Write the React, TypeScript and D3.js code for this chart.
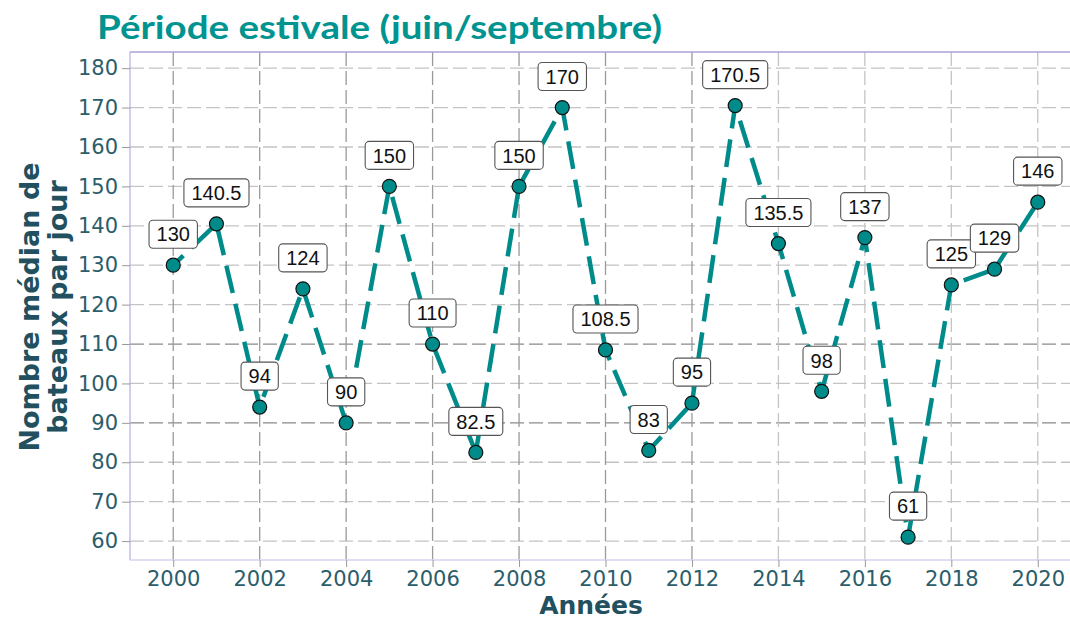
import { useRef, useEffect } from 'react';
import * as d3 from 'd3';

const years = [2000, 2001, 2002, 2003, 2004, 2005, 2006, 2007, 2008, 2009, 2010, 2011, 2012, 2013, 2014, 2015, 2016, 2017, 2018, 2019, 2020];
const boats = [130, 140.5, 94, 124, 90, 150, 110, 82.5, 150, 170, 108.5, 83, 95, 170.5, 135.5, 98, 137, 61, 125, 129, 146];
const xTicks = [2000, 2002, 2004, 2006, 2008, 2010, 2012, 2014, 2016, 2018, 2020];
const yTicks = [60, 70, 80, 90, 100, 110, 120, 130, 140, 150, 160, 170, 180];

const title = 'Période estivale (juin/septembre)';
const xTitle = 'Années';
const yTitleLines = ['Nombre médian de', 'bateaux par jour'];

const width = 1070;
const height = 620;
const teal = '#008b8b';
const axisText = '#2b5d6b';
const titleDark = '#22505e';

export default function App() {
  const svgRef = useRef<SVGSVGElement>(null);

  useEffect(() => {
    document.body.style.margin = '0';
    const svg = d3.select(svgRef.current);
    if (svg.empty()) return;
    svg.selectAll('*').remove();

    const margin = { top: 52, right: -11, bottom: 60, left: 130 };
    const innerW = width - margin.left - margin.right;
    const innerH = height - margin.top - margin.bottom;

    const x = d3.scaleLinear().domain([1999, 2021]).range([0, innerW]);
    const y = d3.scaleLinear().domain([55.2, 184.1]).range([innerH, 0]);

    const g = svg.append('g').attr('transform', `translate(${margin.left},${margin.top})`);

    // Grid
    const grid = g.append('g');
    grid.selectAll('.hg')
      .data(yTicks)
      .enter()
      .append('line')
      .attr('x1', 0)
      .attr('x2', innerW)
      .attr('y1', d => y(d))
      .attr('y2', d => y(d))
      .attr('stroke', d => (d === 90 || d === 110 ? '#8a8a8a' : '#c4c4c4'))
      .attr('stroke-width', 1.3)
      .attr('stroke-dasharray', '14,5');
    grid.selectAll('.vg')
      .data(xTicks)
      .enter()
      .append('line')
      .attr('x1', d => x(d))
      .attr('x2', d => x(d))
      .attr('y1', 0)
      .attr('y2', innerH)
      .attr('stroke', d => (d <= 2012 ? '#9a9a9a' : '#c4c4c4'))
      .attr('stroke-width', 1.3)
      .attr('stroke-dasharray', '14,5');

    // Panel frame
    g.append('line').attr('x1', 0).attr('x2', innerW).attr('y1', 0).attr('y2', 0)
      .attr('stroke', '#a9a2d6').attr('stroke-width', 1.5);
    g.append('line').attr('x1', 0).attr('x2', 0).attr('y1', 0).attr('y2', innerH)
      .attr('stroke', '#b4aee0').attr('stroke-width', 1.2);
    g.append('line').attr('x1', 0).attr('x2', innerW).attr('y1', innerH).attr('y2', innerH)
      .attr('stroke', '#d6d2ee').attr('stroke-width', 1.5);

    // Axes
    const yAxis = g.append('g').call(d3.axisLeft(y).tickValues(yTicks).tickSize(8).tickPadding(4));
    yAxis.select('.domain').remove();
    yAxis.selectAll('line').attr('stroke', '#999');
    yAxis.selectAll('text')
      .attr('fill', axisText)
      .attr('font-size', '21px')
      .attr('font-family', 'DejaVu Sans, sans-serif');

    const xAxis = g.append('g')
      .attr('transform', `translate(0,${innerH})`)
      .call(d3.axisBottom(x).tickValues(xTicks).tickFormat(d3.format('d') as any).tickSize(7).tickPadding(4));
    xAxis.select('.domain').remove();
    xAxis.selectAll('line').attr('stroke', '#999');
    xAxis.selectAll('text')
      .attr('fill', axisText)
      .attr('font-size', '21px')
      .attr('font-family', 'DejaVu Sans, sans-serif');

    const pts = years.map((yr, i) => ({ year: yr, value: boats[i] }));

    // Line
    const line = d3.line<{ year: number; value: number }>()
      .x(d => x(d.year))
      .y(d => y(d.value));
    g.append('path')
      .datum(pts)
      .attr('fill', 'none')
      .attr('stroke', teal)
      .attr('stroke-width', 4.5)
      .attr('stroke-dasharray', '28,11')
      .attr('stroke-dashoffset', 14)
      .attr('d', line);

    // Points
    g.selectAll('.pt')
      .data(pts)
      .enter()
      .append('circle')
      .attr('cx', d => x(d.year))
      .attr('cy', d => y(d.value))
      .attr('r', 7)
      .attr('fill', teal)
      .attr('stroke', '#111')
      .attr('stroke-width', 1.2);

    // Labels
    const lab = g.selectAll('.lab')
      .data(pts)
      .enter()
      .append('g')
      .attr('transform', d => `translate(${x(d.year)},${y(d.value) - 31})`);
    lab.append('text')
      .attr('text-anchor', 'middle')
      .attr('dy', '0.36em')
      .attr('fill', '#111')
      .attr('font-size', '20px')
      .attr('font-family', 'Liberation Sans, Arial, sans-serif')
      .text(d => String(d.value));
    lab.each(function () {
      const grp = d3.select(this);
      const t = grp.select('text').node() as SVGTextElement;
      const w = t.getComputedTextLength() + 15;
      grp.insert('rect', 'text')
        .attr('x', -w / 2)
        .attr('y', -14)
        .attr('width', w)
        .attr('height', 28)
        .attr('rx', 4)
        .attr('fill', '#fff')
        .attr('stroke', '#555')
        .attr('stroke-width', 1.1);
    });

    // Titles
    svg.append('text')
      .attr('x', 97)
      .attr('y', 39)
      .attr('fill', '#009490')
      .attr('font-size', '32px')
      .attr('font-weight', 700)
      .attr('font-family', 'Lato, sans-serif')
      .attr('textLength', 565)
      .attr('lengthAdjust', 'spacingAndGlyphs')
      .text(title);

    svg.append('text')
      .attr('x', 591)
      .attr('y', 614)
      .attr('text-anchor', 'middle')
      .attr('fill', titleDark)
      .attr('font-size', '25px')
      .attr('font-weight', 700)
      .attr('font-family', 'DejaVu Sans, sans-serif')
      .text(xTitle);

    const yt = svg.append('text')
      .attr('transform', 'translate(0,307) rotate(-90)')
      .attr('text-anchor', 'middle')
      .attr('fill', titleDark)
      .attr('font-size', '27px')
      .attr('font-weight', 700)
      .attr('font-family', 'DejaVu Sans, sans-serif');
    yTitleLines.forEach((l, i) => {
      yt.append('tspan').attr('x', 0).attr('y', 39 + i * 28).text(l);
    });
  }, []);

  return <svg ref={svgRef} width={width} height={height} style={{ display: 'block' }} />;
}
